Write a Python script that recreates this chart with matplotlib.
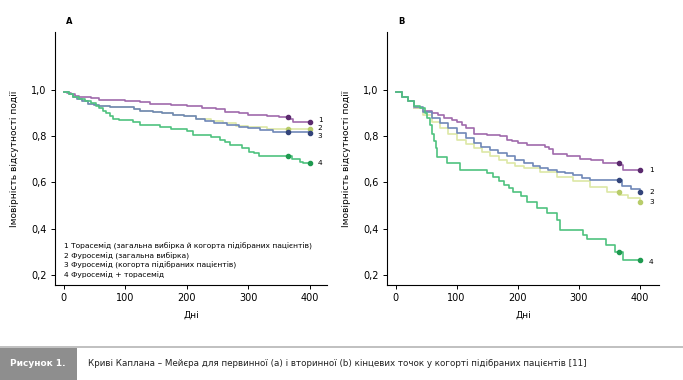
import matplotlib
matplotlib.use("Agg")
import matplotlib.pyplot as plt
from matplotlib.patches import Rectangle
from matplotlib.lines import Line2D

plt.rcParams['font.family'] = ['Liberation Sans Narrow', 'DejaVu Sans']

# Панель A: первинна кінцева точка (день, ймовірність)
a1_days = [0, 5, 12, 18, 25, 45, 58, 100, 125, 140, 175, 200, 225, 248, 262, 286, 300, 330, 350, 368, 373, 400]
a1_surv = [0.99, 0.985, 0.98, 0.975, 0.968, 0.963, 0.957, 0.952, 0.946, 0.94, 0.935, 0.928, 0.922, 0.915,
           0.906, 0.898, 0.892, 0.887, 0.882, 0.875, 0.863, 0.863]
a2_days = [0, 8, 15, 22, 30, 40, 50, 58, 75, 115, 124, 145, 160, 178, 195, 215, 240, 260, 280, 300, 330, 400]
a2_surv = [0.99, 0.98, 0.97, 0.96, 0.95, 0.94, 0.935, 0.93, 0.925, 0.918, 0.91, 0.905, 0.898, 0.89, 0.885,
           0.875, 0.865, 0.855, 0.845, 0.84, 0.832, 0.83]
a3_days = [0, 8, 15, 22, 30, 40, 50, 58, 75, 115, 124, 145, 160, 178, 195, 215, 230, 245, 265, 286, 300, 320,
           340, 400]
a3_surv = [0.99, 0.98, 0.97, 0.96, 0.95, 0.94, 0.935, 0.93, 0.925, 0.918, 0.91, 0.905, 0.898, 0.89, 0.885,
           0.875, 0.865, 0.857, 0.85, 0.84, 0.834, 0.825, 0.817, 0.815]
a4_days = [0, 8, 15, 25, 35, 45, 52, 58, 64, 69, 75, 80, 90, 113, 125, 156, 175, 200, 210, 240, 255, 262, 270,
           290, 302, 310, 318, 372, 385, 390, 400]
a4_surv = [0.99, 0.98, 0.97, 0.96, 0.95, 0.942, 0.93, 0.92, 0.91, 0.90, 0.888, 0.875, 0.87, 0.86, 0.85, 0.838,
           0.83, 0.82, 0.805, 0.795, 0.784, 0.775, 0.762, 0.75, 0.733, 0.725, 0.715, 0.70, 0.69, 0.685, 0.685]

# Панель B: вторинна кінцева точка
b1_days = [0, 10, 20, 30, 45, 60, 70, 80, 92, 100, 108, 115, 128, 150, 171, 182, 190, 200, 215, 245, 252, 258,
           280, 302, 320, 340, 368, 373, 400]
b1_surv = [0.99, 0.97, 0.95, 0.92, 0.91, 0.90, 0.89, 0.88, 0.87, 0.859, 0.85, 0.835, 0.81, 0.805, 0.80, 0.785,
           0.777, 0.77, 0.76, 0.752, 0.745, 0.723, 0.715, 0.70, 0.695, 0.685, 0.675, 0.655, 0.655]
b2_days = [0, 10, 20, 30, 45, 60, 73, 86, 100, 115, 128, 140, 155, 168, 182, 196, 210, 225, 237, 250, 264, 278,
           291, 305, 318, 370, 385, 400]
b2_surv = [0.99, 0.97, 0.95, 0.925, 0.905, 0.88, 0.856, 0.835, 0.813, 0.79, 0.772, 0.755, 0.74, 0.725, 0.712,
           0.697, 0.683, 0.672, 0.661, 0.655, 0.647, 0.64, 0.632, 0.62, 0.611, 0.585, 0.57, 0.56]
b3_days = [0, 10, 20, 30, 45, 60, 73, 86, 100, 115, 128, 141, 155, 170, 182, 196, 210, 237, 264, 291, 318, 346,
           365, 380, 400]
b3_surv = [0.99, 0.97, 0.95, 0.92, 0.89, 0.86, 0.834, 0.81, 0.784, 0.765, 0.748, 0.73, 0.712, 0.695, 0.683,
           0.673, 0.664, 0.643, 0.625, 0.604, 0.582, 0.56, 0.546, 0.532, 0.517]
b4_days = [0, 10, 20, 30, 40, 48, 52, 57, 60, 63, 66, 68, 84, 106, 150, 160, 170, 177, 186, 193, 205, 215, 231,
           248, 264, 270, 307, 313, 345, 360, 373, 400]
b4_surv = [0.99, 0.97, 0.95, 0.93, 0.92, 0.90, 0.88, 0.85, 0.81, 0.78, 0.75, 0.71, 0.683, 0.654, 0.64, 0.625,
           0.607, 0.589, 0.575, 0.56, 0.54, 0.517, 0.488, 0.467, 0.438, 0.395, 0.373, 0.354, 0.33, 0.30, 0.265,
           0.265]

yticks = [0.2, 0.4, 0.6, 0.8, 1.0]
ytick_labels = ['0,2', '0,4', '0,6', '0,8', '1,0']
xticks = [0, 100, 200, 300, 400]
legend_lines = ['1 Торасемід (загальна вибірка й когорта підібраних пацієнтів)',
                '2 Фуросемід (загальна вибірка)',
                '3 Фуросемід (когорта підібраних пацієнтів)',
                '4 Фуросемід + торасемід']

purple, purple_d = '#a06aac', '#5b2a6e'
blue, blue_d = '#6f88b8', '#33447a'
yellow, yellow_d = '#dde8a6', '#b8cc6a'
green, green_d = '#4fc27f', '#1f9a50'


def surv_at(days, surv, t):
    v = surv[0]
    for d, s in zip(days, surv):
        if d <= t:
            v = s
    return v


def draw_panel(ax, curves, letter, label_y, label_x, xmax):
    for days, surv, c, cd in curves:
        ax.plot(days, surv, drawstyle='steps-post', color=c, lw=1.2)
        ax.plot([365, 400], [surv_at(days, surv, 364), surv_at(days, surv, 400)], ls='none',
                marker='o', ms=3, color=cd)
    ax.set_xlim(-14, xmax)
    ax.set_ylim(0.157, 1.25)
    ax.set_yticks(yticks)
    ax.set_yticklabels(ytick_labels)
    ax.set_xticks(xticks)
    ax.spines['top'].set_visible(False)
    ax.spines['right'].set_visible(False)
    ax.spines['left'].set_linewidth(0.8)
    ax.spines['bottom'].set_linewidth(0.8)
    ax.tick_params(labelsize=7, length=3, width=0.7, pad=3)
    ax.set_xlabel('Дні', fontsize=6.5, labelpad=5)
    ax.set_ylabel('Імовірність відсутності події', fontsize=6.5, labelpad=9)
    ax.text(0.04, 1.03, letter, transform=ax.transAxes, fontsize=6, fontweight='bold')
    for i, yy in enumerate(label_y):
        ax.text(label_x, yy, str(i + 1), fontsize=5.3, va='center', ha='center')


fig = plt.figure(figsize=(6.83, 3.8), dpi=100)

ax1 = fig.add_axes([0.0805, 0.25, 0.398, 0.666])
draw_panel(ax1, [(a1_days, a1_surv, purple, purple_d),
                 (a2_days, a2_surv, yellow, yellow_d),
                 (a3_days, a3_surv, blue, blue_d),
                 (a4_days, a4_surv, green, green_d)],
           'A', [0.868, 0.834, 0.80, 0.684], 417, 428)
for i, t in enumerate(legend_lines):
    ax1.text(0, 0.322 - i * 0.04, t, fontsize=5.4, va='center')

ax2 = fig.add_axes([0.5666, 0.25, 0.398, 0.666])
draw_panel(ax2, [(b1_days, b1_surv, purple, purple_d),
                 (b3_days, b3_surv, yellow, yellow_d),
                 (b2_days, b2_surv, blue, blue_d),
                 (b4_days, b4_surv, green, green_d)],
           'B', [0.654, 0.56, 0.517, 0.257], 419, 431)

# підпис рисунка
fig.add_artist(Line2D([0, 1], [1 - 347 / 380, 1 - 347 / 380], color='#b5b5b5', lw=1.2,
                      transform=fig.transFigure))
fig.add_artist(Rectangle((0, 0), 77 / 683, 1 - 348 / 380, color='#8e8e8e',
                         transform=fig.transFigure, lw=0))
fig.text(10 / 683, 1 - 363 / 380, 'Рисунок 1.', color='white', fontsize=6.5,
         fontweight='bold', va='center')
fig.text(88 / 683, 1 - 363 / 380,
         'Криві Каплана – Мейєра для первинної (a) і вторинної (b) кінцевих точок у когорті підібраних пацієнтів [11]',
         fontsize=6.3, va='center', color='#222222')

fig.savefig('out.png', dpi=100)
